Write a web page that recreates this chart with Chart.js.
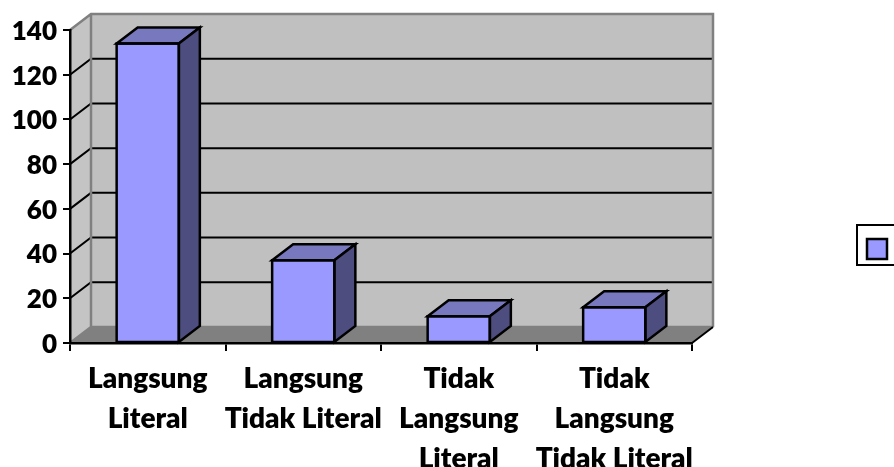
<!DOCTYPE html>
<html>
<head>
<meta charset="utf-8">
<title>Chart</title>
<script src="https://cdn.jsdelivr.net/npm/chart.js@4"></script>
<style>
  html, body { margin: 0; padding: 0; background: #fff; overflow: hidden; }
  #wrap { width: 894px; height: 467px; }
</style>
</head>
<body>
<div id="wrap"><canvas id="chart" width="894" height="467"></canvas></div>
<script>
const categories = [
  ['Langsung', 'Literal'],
  ['Langsung', 'Tidak Literal'],
  ['Tidak', 'Langsung', 'Literal'],
  ['Tidak', 'Langsung', 'Tidak Literal']
];
const values = [134, 37, 12, 16];
const yTicks = [0, 20, 40, 60, 80, 100, 120, 140];

// profundidad de la caja 3D
const DX = 21;
const DY = -16;

function poly(ctx, pts, fill, stroke, lw) {
  ctx.beginPath();
  pts.forEach((p, i) => i ? ctx.lineTo(p[0], p[1]) : ctx.moveTo(p[0], p[1]));
  ctx.closePath();
  if (fill) { ctx.fillStyle = fill; ctx.fill(); }
  if (stroke) { ctx.strokeStyle = stroke; ctx.lineWidth = lw; ctx.lineJoin = 'miter'; ctx.stroke(); }
}

const box3d = {
  id: 'box3d',
  beforeDraw(chart) {
    const { ctx, chartArea: a, scales: { y } } = chart;
    const top = y.getPixelForValue(140), bot = y.getPixelForValue(0);
    ctx.save();
    // paredes y suelo
    poly(ctx, [[a.left, top], [a.left + DX, top + DY], [a.left + DX, bot + DY], [a.left, bot]], '#C4C4C4');
    poly(ctx, [[a.left + DX, top + DY], [a.right + DX, top + DY], [a.right + DX, bot + DY], [a.left + DX, bot + DY]], '#C0C0C0');
    poly(ctx, [[a.left, bot], [a.left + DX, bot + DY], [a.right + DX, bot + DY], [a.right, bot]], '#808080');
    // lineas de rejilla
    ctx.strokeStyle = '#000';
    ctx.lineWidth = 2;
    yTicks.slice(1, -1).forEach(v => {
      const py = y.getPixelForValue(v);
      ctx.beginPath();
      ctx.moveTo(a.left, py);
      ctx.lineTo(a.left + DX, py + DY);
      ctx.lineTo(a.right + DX, py + DY);
      ctx.stroke();
    });
    // bordes grises
    ctx.strokeStyle = '#808080';
    ctx.lineWidth = 2.5;
    ctx.beginPath();
    ctx.moveTo(a.left, top);
    ctx.lineTo(a.left + DX, top + DY);
    ctx.lineTo(a.right + DX, top + DY);
    ctx.lineTo(a.right + DX, bot + DY);
    ctx.moveTo(a.left + DX, top + DY);
    ctx.lineTo(a.left + DX, bot + DY);
    ctx.lineTo(a.left, bot);
    ctx.moveTo(a.left + DX, bot + DY);
    ctx.lineTo(a.right + DX, bot + DY);
    ctx.stroke();
    // borde del suelo a la derecha
    ctx.strokeStyle = '#000';
    ctx.lineWidth = 2;
    ctx.beginPath();
    ctx.moveTo(a.right, bot);
    ctx.lineTo(a.right + DX, bot + DY);
    ctx.stroke();
    ctx.restore();
  },
  afterDatasetsDraw(chart) {
    const { ctx } = chart;
    ctx.save();
    chart.getDatasetMeta(0).data.forEach(bar => {
      const l = bar.x - bar.width / 2, r = bar.x + bar.width / 2;
      const t = bar.y, b = bar.base;
      poly(ctx, [[l, t], [l + DX, t + DY], [r + DX, t + DY], [r, t]], '#7878BE', '#000', 2.5);
      poly(ctx, [[r, t], [r + DX, t + DY], [r + DX, b + DY], [r, b]], '#4D4D80', '#000', 2.5);
      // contorno centrado sobre el valor
      poly(ctx, [[l, t], [r, t], [r, b], [l, b]], null, '#000', 2.5);
    });
    // leyenda recortada por el borde
    ctx.strokeStyle = '#000';
    ctx.lineWidth = 2;
    ctx.strokeRect(857, 225, 60, 40);
    ctx.fillStyle = '#9999FF';
    ctx.lineWidth = 2.5;
    ctx.fillRect(867, 239, 20, 20);
    ctx.strokeRect(867, 239, 20, 20);
    ctx.restore();
  }
};

const tickFont = { family: 'Lato', size: 28, weight: '800', lineHeight: '40px' };

new Chart(document.getElementById('chart'), {
  type: 'bar',
  data: {
    labels: categories,
    datasets: [{
      data: values,
      backgroundColor: '#9999FF',
      borderWidth: 0,
      barPercentage: 0.4,
      categoryPercentage: 1
    }]
  },
  options: {
    responsive: false,
    animation: false,
    layout: { padding: { top: 30, right: 202, left: 0, bottom: 0 } },
    plugins: { legend: { display: false }, tooltip: { enabled: false } },
    scales: {
      x: {
        grid: { offset: true, drawOnChartArea: false, color: '#000', lineWidth: 2, tickLength: 8 },
        border: { color: '#000', width: 2.5 },
        ticks: { color: '#000', font: tickFont, padding: 8, maxRotation: 0, autoSkip: false },
        afterFit(scale) { scale.height = 124; }
      },
      y: {
        min: 0,
        max: 140,
        grid: { drawOnChartArea: false, color: '#000', lineWidth: 2, tickLength: 7 },
        border: { color: '#000', width: 2.5 },
        ticks: {
          color: '#000',
          // linea vacia delante para bajar el texto un poco
          font: { family: 'Lato', size: 26, weight: '800', lineHeight: '3px' },
          padding: 6,
          stepSize: 20,
          callback: v => yTicks.includes(v) ? ['', String(v)] : ''
        },
        afterFit(scale) { scale.width = 70; }
      }
    }
  },
  plugins: [box3d]
});
</script>
</body>
</html>
